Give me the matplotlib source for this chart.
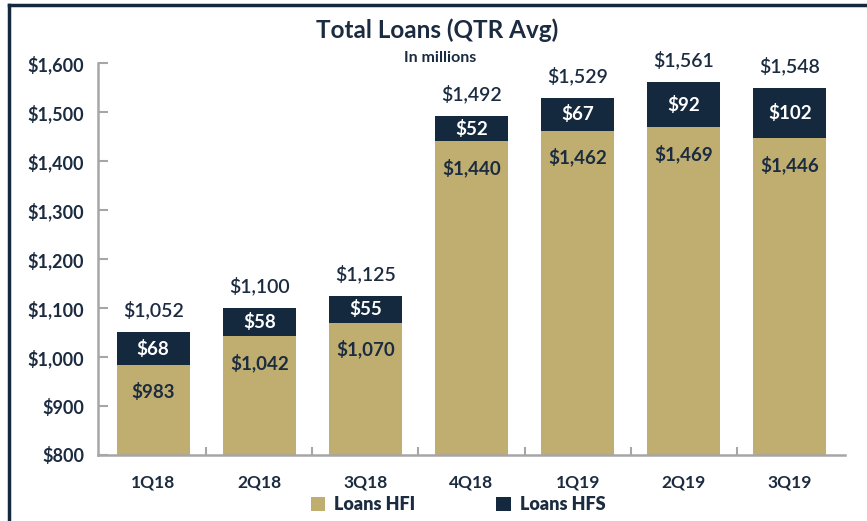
import matplotlib
matplotlib.use("Agg")
import matplotlib.pyplot as plt
from matplotlib.lines import Line2D

quarters = ["1Q18", "2Q18", "3Q18", "4Q18", "1Q19", "2Q19", "3Q19"]
loans_hfi = [983, 1042, 1070, 1440, 1462, 1469, 1446]
loans_hfs = [68, 58, 55, 52, 67, 92, 102]
totals = [1052, 1100, 1125, 1492, 1529, 1561, 1548]
yticks = [800, 900, 1000, 1100, 1200, 1300, 1400, 1500, 1600]

GOLD = "#BFAE6F"
NAVY = "#14293D"
TXT = "#1B2B40"
plt.rcParams["font.family"] = ["Lato", "DejaVu Sans"]

fig = plt.figure(figsize=(8.67, 5.21), dpi=100)
ax = fig.add_axes([98/867, 1-455/521, (845-98)/867, (455-63)/521])

x = list(range(len(quarters)))
w = 0.69
ax.bar(x, loans_hfi, width=w, color=GOLD, label="Loans HFI", zorder=2)
ax.bar(x, loans_hfs, width=w, bottom=loans_hfi, color=NAVY, label="Loans HFS", zorder=2)

for i in x:
    ax.annotate(f"${loans_hfi[i]:,}", (i, loans_hfi[i]), xytext=(0, -19), textcoords="offset points",
                ha="center", va="center", fontsize=13.5, fontweight="bold", color=TXT)
    ax.annotate(f"${loans_hfs[i]:,}", (i, loans_hfi[i] + loans_hfs[i] / 2), ha="center", va="center",
                fontsize=13.5, fontweight="bold", color="white")
    ax.annotate(f"${totals[i]:,}", (i, loans_hfi[i] + loans_hfs[i]), xytext=(0, 16), textcoords="offset points",
                ha="center", va="center", fontsize=14, fontweight="semibold", color=TXT)

ax.set_ylim(800, 1600)
ax.set_xlim(-0.52, 6.52)
ax.set_yticks(yticks)
ax.set_yticklabels([f"${v:,}" for v in yticks], fontsize=13, fontweight="bold", color=TXT)
ax.set_xticks(x)
ax.set_xticklabels(quarters, fontsize=12.5, fontweight="bold", color=TXT)
ax.set_xticks([i + 0.5 for i in x[:-1]], minor=True)
ax.tick_params(axis="x", which="major", length=0, pad=14)
ax.tick_params(axis="x", which="minor", direction="in", length=6, color="#A6A6A6", width=1.5)
ax.tick_params(axis="y", direction="in", length=7, color="#A6A6A6", width=1.5, pad=10)
for s in ["top", "right"]:
    ax.spines[s].set_visible(False)
for s in ["left", "bottom"]:
    ax.spines[s].set_color("#A6A6A6")
    ax.spines[s].set_linewidth(1.8)

fig.text(437/867, 1-30/521, "Total Loans (QTR Avg)", ha="center", va="center",
         fontsize=17.5, fontweight="bold", color=TXT)
fig.text(440/867, 1-58/521, "In millions", ha="center", va="center",
         fontsize=11.5, fontweight="bold", color=TXT)

leg = fig.legend(loc="center", bbox_to_anchor=(458/867, 1-505/521), ncol=2, frameon=False,
                 fontsize=13, handlelength=0.8, handleheight=0.8, columnspacing=4.5, handletextpad=0.5)
for t in leg.get_texts():
    t.set_color(TXT)
    t.set_fontweight("heavy")

fig.add_artist(Line2D([9/867, 9/867], [0, 1-5/521], color=NAVY, lw=2.5))
fig.add_artist(Line2D([9/867, 1], [1-5/521, 1-5/521], color=NAVY, lw=2.5))

fig.savefig("out.png", dpi=100)
